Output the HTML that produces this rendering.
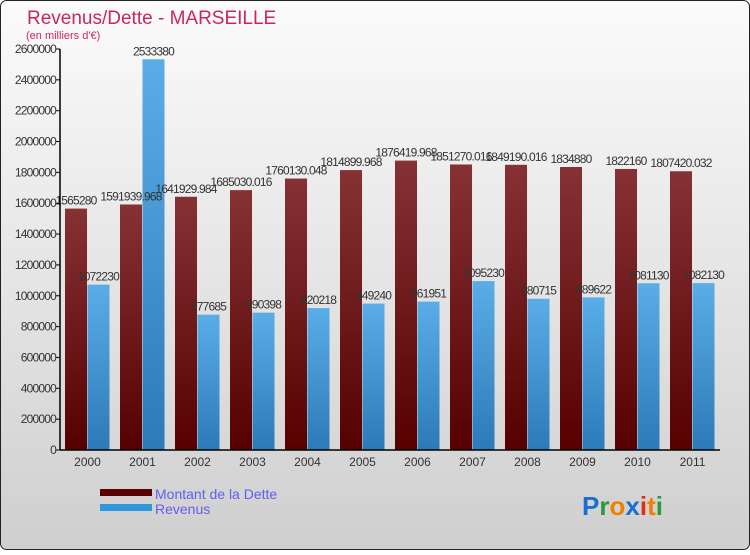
<!DOCTYPE html>
<html><head><meta charset="utf-8"><style>
body{margin:0;}
svg text{font-family:"Liberation Sans",sans-serif;}
</style></head><body>
<svg id="chart" width="750" height="550" xmlns="http://www.w3.org/2000/svg">
<defs>
<linearGradient id="bg" x1="0" y1="0" x2="0" y2="1"><stop offset="0" stop-color="#fbfbfb"/><stop offset="1" stop-color="#cfcfcf"/></linearGradient>
<linearGradient id="gd" x1="0" y1="0" x2="0" y2="1"><stop offset="0" stop-color="#863235"/><stop offset="1" stop-color="#560000"/></linearGradient>
<linearGradient id="gr" x1="0" y1="0" x2="0" y2="1"><stop offset="0" stop-color="#5aade6"/><stop offset="1" stop-color="#2c7ab8"/></linearGradient>
</defs>
<rect x="0.5" y="0.5" width="749" height="549" rx="6" fill="url(#bg)" stroke="#222"/>
<text x="27" y="24" font-size="19" fill="#c8285a">Revenus/Dette - MARSEILLE</text>
<text x="26" y="39" font-size="11" fill="#c8285a">(en milliers d'€)</text>
<g id="plot"></g>
<rect x="100" y="489" width="52" height="7" fill="#5a0000"/>
<rect x="100" y="504" width="52" height="7" fill="#2f98dd"/>
<text x="155" y="499" font-size="14" fill="#6060ee">Montant de la Dette</text>
<text x="155" y="514" font-size="14" fill="#6060ee">Revenus</text>
<text x="582" y="515" font-size="26" font-weight="bold"><tspan fill="#1a6fd0">P</tspan><tspan fill="#2a9a3a">r</tspan><tspan fill="#f08000">o</tspan><tspan fill="#1a6fd0">x</tspan><tspan fill="#e03010">i</tspan><tspan fill="#f08000">t</tspan><tspan fill="#2a9a3a">i</tspan></text>
</svg>
<script>
const years=["2000","2001","2002","2003","2004","2005","2006","2007","2008","2009","2010","2011"];
const dette=[1565280,1591939.968,1641929.984,1685030.016,1760130.048,1814899.968,1876419.968,1851270.016,1849190.016,1834880,1822160,1807420.032];
const detteLabels=["1565280","1591939.968","1641929.984","1685030.016","1760130.048","1814899.968","1876419.968","1851270.016","1849190.016","1834880","1822160","1807420.032"];
const revenus=[1072230,2533380,877685,890398,920218,949240,961951,1095230,980715,989622,1081130,1082130];
const yTicks=[0,200000,400000,600000,800000,1000000,1200000,1400000,1600000,1800000,2000000,2200000,2400000,2600000];
const NS="http://www.w3.org/2000/svg";
const g=document.getElementById('plot');
const x0=60,step=55,yBase=450,yTop=49,yMax=2600000;
function y(v){return yBase-(v/yMax)*(yBase-yTop);}
function xc(i){return x0+step*i;}
function mk(t,a){const e=document.createElementNS(NS,t);for(const k in a)e.setAttribute(k,a[k]);g.appendChild(e);return e;}
years.forEach((yr,i)=>{
  const b=mk('rect',{x:xc(i)+5,y:y(dette[i]),width:22,height:yBase-y(dette[i]),fill:'url(#gd)'});
  
  
  const r=mk('rect',{x:xc(i)+27.5,y:y(revenus[i]),width:22,height:yBase-y(revenus[i]),fill:'url(#gr)'});
  
  
});
years.forEach((yr,i)=>{
  const t1=mk('text',{x:xc(i)+16,y:y(dette[i])-4,'font-size':12,'text-anchor':'middle',fill:'#333','letter-spacing':'-0.8'});
  t1.textContent=detteLabels[i];
  
  
  const t2=mk('text',{x:xc(i)+38.5,y:y(revenus[i])-4,'font-size':12,'text-anchor':'middle',fill:'#333','letter-spacing':'-0.8'});
  t2.textContent=String(revenus[i]);
  
  
  const tx=mk('text',{x:xc(i)+27.5,y:466,'font-size':12,'text-anchor':'middle',fill:'#333'});
  tx.textContent=yr;
  
  
});
const ax=mk('line',{x1:x0,y1:yTop,x2:x0,y2:yBase,stroke:'#000','stroke-width':1.5});


const bx=mk('line',{x1:x0,y1:yBase,x2:x0+step*12,y2:yBase,stroke:'#000','stroke-width':1.5});


yTicks.forEach(v=>{
  mk('line',{x1:x0-4,y1:y(v),x2:x0,y2:y(v),stroke:'#000'});
  const t=mk('text',{x:x0-4,y:y(v)+4,'font-size':12,'text-anchor':'end',fill:'#333','letter-spacing':'-0.8'});
  t.textContent=String(v);
  
  
});
</script>
</body></html>
